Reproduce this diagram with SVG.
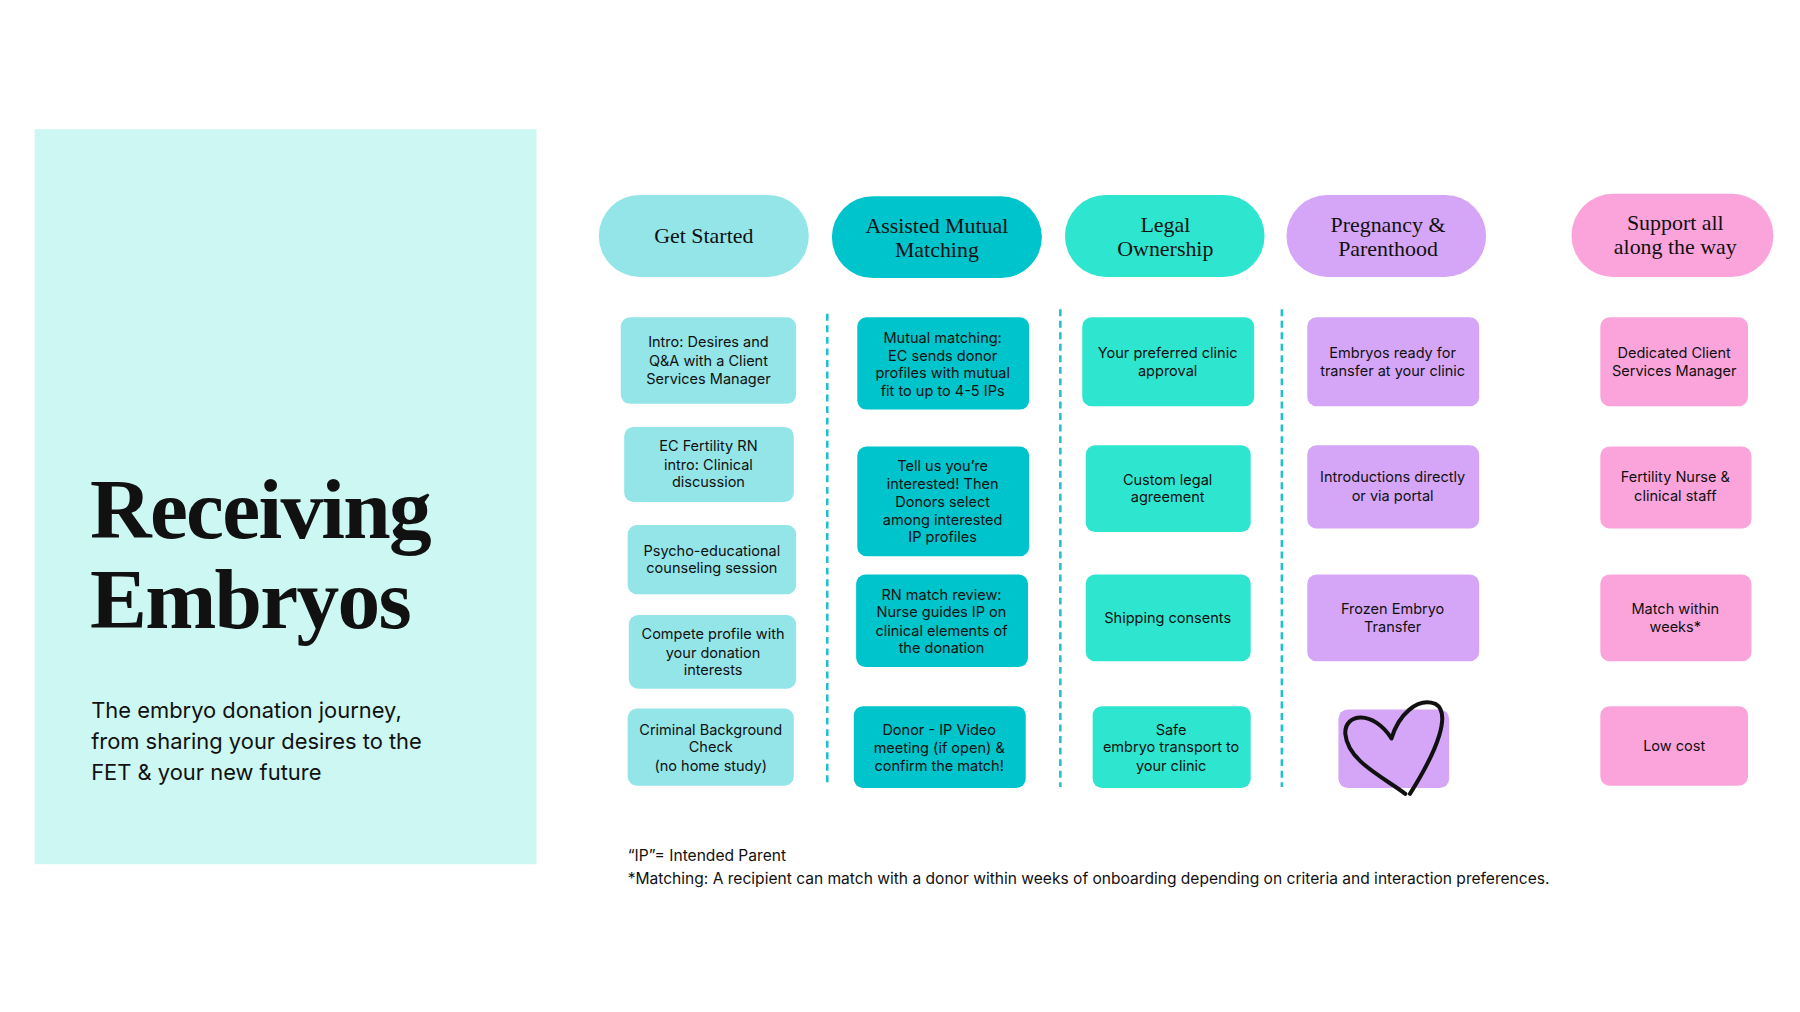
<svg xmlns="http://www.w3.org/2000/svg" width="1800" height="1012" viewBox="0 0 1800 1012">
<style>
.hd{font-family:"Liberation Serif",serif;font-size:19px;fill:#111;text-anchor:middle}
.bx{font-family:"Inter","Liberation Sans",sans-serif;font-size:12.6px;fill:#111;text-anchor:middle}
.c1{fill:#93e5e8}.c2{fill:#00c4cb}.c3{fill:#2ee6cf}.c4{fill:#d5a6f7}.c5{fill:#fba4dc}
.dash{stroke:#22bfd0;stroke-width:2.2;stroke-dasharray:6 4}
</style>
<rect width="1800" height="1012" fill="#fff"/>
<g transform="scale(1.1538)">
<g id="panel">
<rect x="30" y="112" width="435" height="637" fill="#ccf7f2"/>
<text x="78" y="466" font-family="'Liberation Serif',serif" font-weight="bold" font-size="74" fill="#111" letter-spacing="-1.5">Receiving</text>
<text x="78" y="544" font-family="'Liberation Serif',serif" font-weight="bold" font-size="74" fill="#111" letter-spacing="-1.5">Embryos</text>
<g font-family="Inter,'Liberation Sans',sans-serif" font-size="19" fill="#111">
<text x="79" y="622">The embryo donation journey,</text>
<text x="79" y="649">from sharing your desires to the</text>
<text x="79" y="676">FET &amp; your new future</text>
</g>
</g>
<g id="connectors">
<line class="dash" x1="717" y1="272" x2="717" y2="682"/>
<line class="dash" x1="919" y1="268" x2="919" y2="682"/>
<line class="dash" x1="1111" y1="268" x2="1111" y2="682"/>
</g>
<g id="h1"><rect class="c1" x="519" y="169" width="182" height="71" rx="35.5"/><text class="hd" x="610" y="211">Get Started</text></g>
<g id="h2"><rect class="c2" x="721" y="170" width="182" height="71" rx="35.5"/><text class="hd" x="812" y="202">Assisted Mutual</text><text class="hd" x="812" y="223">Matching</text></g>
<g id="h3"><rect class="c3" x="923" y="169" width="173" height="71" rx="35.5"/><text class="hd" x="1010" y="201">Legal</text><text class="hd" x="1010" y="222">Ownership</text></g>
<g id="h4"><rect class="c4" x="1115" y="169" width="173" height="71" rx="35.5"/><text class="hd" x="1203" y="201">Pregnancy &amp;</text><text class="hd" x="1203" y="222">Parenthood</text></g>
<g id="h5"><rect class="c5" x="1362" y="168" width="175" height="72" rx="36"/><text class="hd" x="1452" y="199">Support all</text><text class="hd" x="1452" y="220">along the way</text></g>

<g id="a1"><rect class="c1" x="538" y="275" width="152" height="75" rx="8"/><text class="bx" x="614" y="301">Intro: Desires and</text><text class="bx" x="614" y="317">Q&amp;A with a Client</text><text class="bx" x="614" y="333">Services Manager</text></g>
<g id="a2"><rect class="c1" x="541" y="370" width="147" height="65" rx="8"/><text class="bx" x="614" y="391">EC Fertility RN</text><text class="bx" x="614" y="407">intro: Clinical</text><text class="bx" x="614" y="422">discussion</text></g>
<g id="a3"><rect class="c1" x="544" y="455" width="146" height="60" rx="8"/><text class="bx" x="617" y="482">Psycho-educational</text><text class="bx" x="617" y="497">counseling session</text></g>
<g id="a4"><rect class="c1" x="545" y="533" width="145" height="64" rx="8"/><text class="bx" x="618" y="554">Compete profile with</text><text class="bx" x="618" y="570">your donation</text><text class="bx" x="618" y="585">interests</text></g>
<g id="a5"><rect class="c1" x="544" y="614" width="144" height="67" rx="8"/><text class="bx" x="616" y="637">Criminal Background</text><text class="bx" x="616" y="652">Check</text><text class="bx" x="616" y="668">(no home study)</text></g>

<g id="b1"><rect class="c2" x="743" y="275" width="149" height="80" rx="8"/><text class="bx" x="817" y="297">Mutual matching:</text><text class="bx" x="817" y="313">EC sends donor</text><text class="bx" x="817" y="328">profiles with mutual</text><text class="bx" x="817" y="343">fit to up to 4-5 IPs</text></g>
<g id="b2"><rect class="c2" x="743" y="387" width="149" height="95" rx="8"/><text class="bx" x="817" y="408">Tell us you’re</text><text class="bx" x="817" y="424">interested!  Then</text><text class="bx" x="817" y="439">Donors select</text><text class="bx" x="817" y="455">among interested</text><text class="bx" x="817" y="470">IP profiles</text></g>
<g id="b3"><rect class="c2" x="742" y="498" width="149" height="80" rx="8"/><text class="bx" x="816" y="520">RN match review:</text><text class="bx" x="816" y="535">Nurse guides IP on</text><text class="bx" x="816" y="551">clinical elements of</text><text class="bx" x="816" y="566">the donation</text></g>
<g id="b4"><rect class="c2" x="740" y="612" width="149" height="71" rx="8"/><text class="bx" x="814" y="637">Donor - IP Video</text><text class="bx" x="814" y="653">meeting (if open) &amp;</text><text class="bx" x="814" y="668">confirm the match!</text></g>

<g id="c1"><rect class="c3" x="938" y="275" width="149" height="77" rx="8"/><text class="bx" x="1012" y="310">Your preferred clinic</text><text class="bx" x="1012" y="326">approval</text></g>
<g id="c2"><rect class="c3" x="941" y="386" width="143" height="75" rx="8"/><text class="bx" x="1012" y="420">Custom legal</text><text class="bx" x="1012" y="435">agreement</text></g>
<g id="c3"><rect class="c3" x="941" y="498" width="143" height="75" rx="8"/><text class="bx" x="1012" y="540">Shipping consents</text></g>
<g id="c4"><rect class="c3" x="947" y="612" width="137" height="71" rx="8"/><text class="bx" x="1015" y="637">Safe</text><text class="bx" x="1015" y="652">embryo transport to</text><text class="bx" x="1015" y="668">your clinic</text></g>

<g id="d1"><rect class="c4" x="1133" y="275" width="149" height="77" rx="8"/><text class="bx" x="1207" y="310">Embryos ready for</text><text class="bx" x="1207" y="326">transfer at your clinic</text></g>
<g id="d2"><rect class="c4" x="1133" y="386" width="149" height="72" rx="8"/><text class="bx" x="1207" y="418">Introductions directly</text><text class="bx" x="1207" y="434">or via portal</text></g>
<g id="d3"><rect class="c4" x="1133" y="498" width="149" height="75" rx="8"/><text class="bx" x="1207" y="532">Frozen Embryo</text><text class="bx" x="1207" y="548">Transfer</text></g>
<g id="d4"><rect class="c4" x="1160" y="615" width="96" height="68" rx="8"/><path d="M1218 688 C1200 674 1168 660 1166 636 C1165 618 1190 615 1206 640 C1212 620 1228 604 1244 610 C1258 618 1246 650 1222 688" fill="none" stroke="#111" stroke-width="3.5" stroke-linecap="round" stroke-linejoin="round"/></g>

<g id="e1"><rect class="c5" x="1387" y="275" width="128" height="77" rx="8"/><text class="bx" x="1451" y="310">Dedicated Client</text><text class="bx" x="1451" y="326">Services Manager</text></g>
<g id="e2"><rect class="c5" x="1387" y="387" width="131" height="71" rx="8"/><text class="bx" x="1452" y="418">Fertility Nurse &amp;</text><text class="bx" x="1452" y="434">clinical staff</text></g>
<g id="e3"><rect class="c5" x="1387" y="498" width="131" height="75" rx="8"/><text class="bx" x="1452" y="532">Match within</text><text class="bx" x="1452" y="548">weeks*</text></g>
<g id="e4"><rect class="c5" x="1387" y="612" width="128" height="69" rx="8"/><text class="bx" x="1451" y="651">Low cost</text></g>

<g id="notes" font-family="Inter,'Liberation Sans',sans-serif" font-size="13.5" fill="#111">
<text x="544" y="746">“IP”= Intended Parent</text>
<text x="544" y="766">*Matching: A recipient can match with a donor within weeks of onboarding depending on criteria and interaction preferences.</text>
</g>
</g>
</svg>
